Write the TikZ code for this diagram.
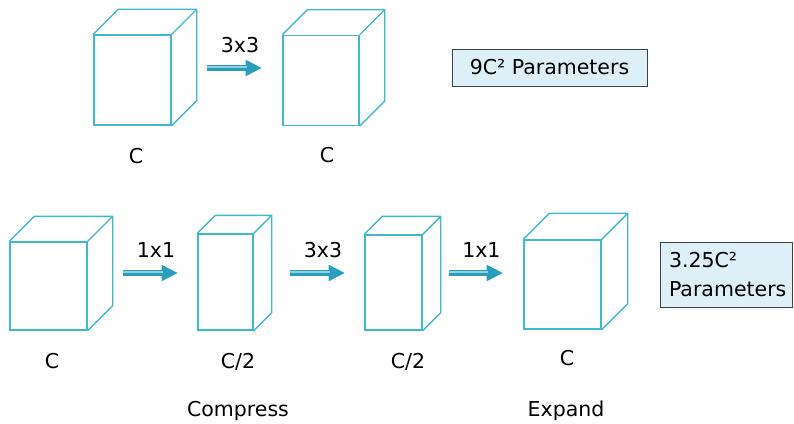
\documentclass[tikz,border=0pt]{standalone}
\usepackage{fontspec}
\setmainfont{DejaVu Sans}
\usetikzlibrary{arrows.meta,positioning,calc}
\definecolor{cubeblue}{RGB}{64,184,208}
\definecolor{flowteal}{RGB}{40,158,190}
\definecolor{paleblue}{RGB}{221,240,247}

% top and right faces behind a front face node
\newcommand{\backfaces}[2]{%
  \draw[cubeedge] (#1.north west) -- ++(#2,-#2) -- ($(#1.north east)+(#2,-#2)$) -- (#1.north east)
    ($(#1.north east)+(#2,-#2)$) -- ($(#1.south east)+(#2,-#2)$) -- (#1.south east);}

\begin{document}
\begin{tikzpicture}[x=0.03cm, y=-0.03cm,
    every node/.style={font=\fontsize{17.5}{24.5}\selectfont},
    cube/.style={draw=cubeblue, line width=1.2pt, inner sep=0pt},
    cubeedge/.style={draw=cubeblue, line width=1.2pt, line join=round},
    flow/.style={-{Triangle[length=14pt,width=13pt]}, line width=4.4pt, draw=flowteal,
      postaction={draw=white!50!flowteal, line width=1.1pt, -, shorten >=13pt,
        transform canvas={yshift=0.9pt}}},
    oplabel/.style={pos=0.6, above=11pt, inner sep=0pt},
    param/.style={draw=black!75, fill=paleblue, line width=0.8pt}]
  \useasboundingbox (0,0) rectangle (794,423);

  % plain 3x3 convolution
  \node[cube, minimum width=2.31cm, minimum height=2.7cm] (in1) at (132.5,80) {};
  \backfaces{in1}{25}
  \node[cube, minimum width=2.28cm, minimum height=2.7cm] (out1) at (321,80.5) {};
  \backfaces{out1}{25}
  \coordinate (f1s) at (207,68);
  \coordinate (f1e) at (262,68);
  \draw[flow] (f1s) -- node[oplabel] {3x3} (f1e);
  \node[anchor=base] (cin1) at (136,163) {C};
  \node[anchor=base] (cout1) at (327,162) {C};
  \node[param, minimum width=5.85cm, minimum height=1.11cm] (cost1) at (549.5,67.5) {9C² Parameters};

  % bottleneck: compress, convolve, expand
  \node[cube, minimum width=2.31cm, minimum height=2.64cm] (in2) at (48.5,286) {};
  \backfaces{in2}{25}
  \node[cube, minimum width=1.65cm, minimum height=2.88cm] (mid1) at (225.5,282) {};
  \backfaces{mid1}{18}
  \node[cube, minimum width=1.71cm, minimum height=2.85cm] (mid2) at (393.5,282.5) {};
  \backfaces{mid2}{18}
  \node[cube, minimum width=2.31cm, minimum height=2.67cm] (out2) at (562.5,284.5) {};
  \backfaces{out2}{26}

  \coordinate (f2s) at (123,273);
  \coordinate (f2e) at (178,273);
  \coordinate (f3s) at (290,273);
  \coordinate (f3e) at (345,273);
  \coordinate (f4s) at (449,273);
  \coordinate (f4e) at (503,273);
  \draw[flow] (f2s) -- node[oplabel] {1x1} (f2e);
  \draw[flow] (f3s) -- node[oplabel] {3x3} (f3e);
  \draw[flow] (f4s) -- node[oplabel] {1x1} (f4e);

  \node[anchor=base] (cin2) at (52,368) {C};
  \node[anchor=base] (cmid1) at (238,368) {C/2};
  \node[anchor=base] (cmid2) at (408,368) {C/2};
  \node[anchor=base] (cout2) at (567,365) {C};
  \node[anchor=base] (compress) at (238,416) {Compress};
  \node[anchor=base] (expand) at (566,416) {Expand};

  \node[param, minimum width=3.96cm, minimum height=1.95cm, text width=3.42cm,
    align=left, inner xsep=0.27cm] (cost2) at (726,274.5) {3.25C²\\Parameters};
\end{tikzpicture}
\end{document}
